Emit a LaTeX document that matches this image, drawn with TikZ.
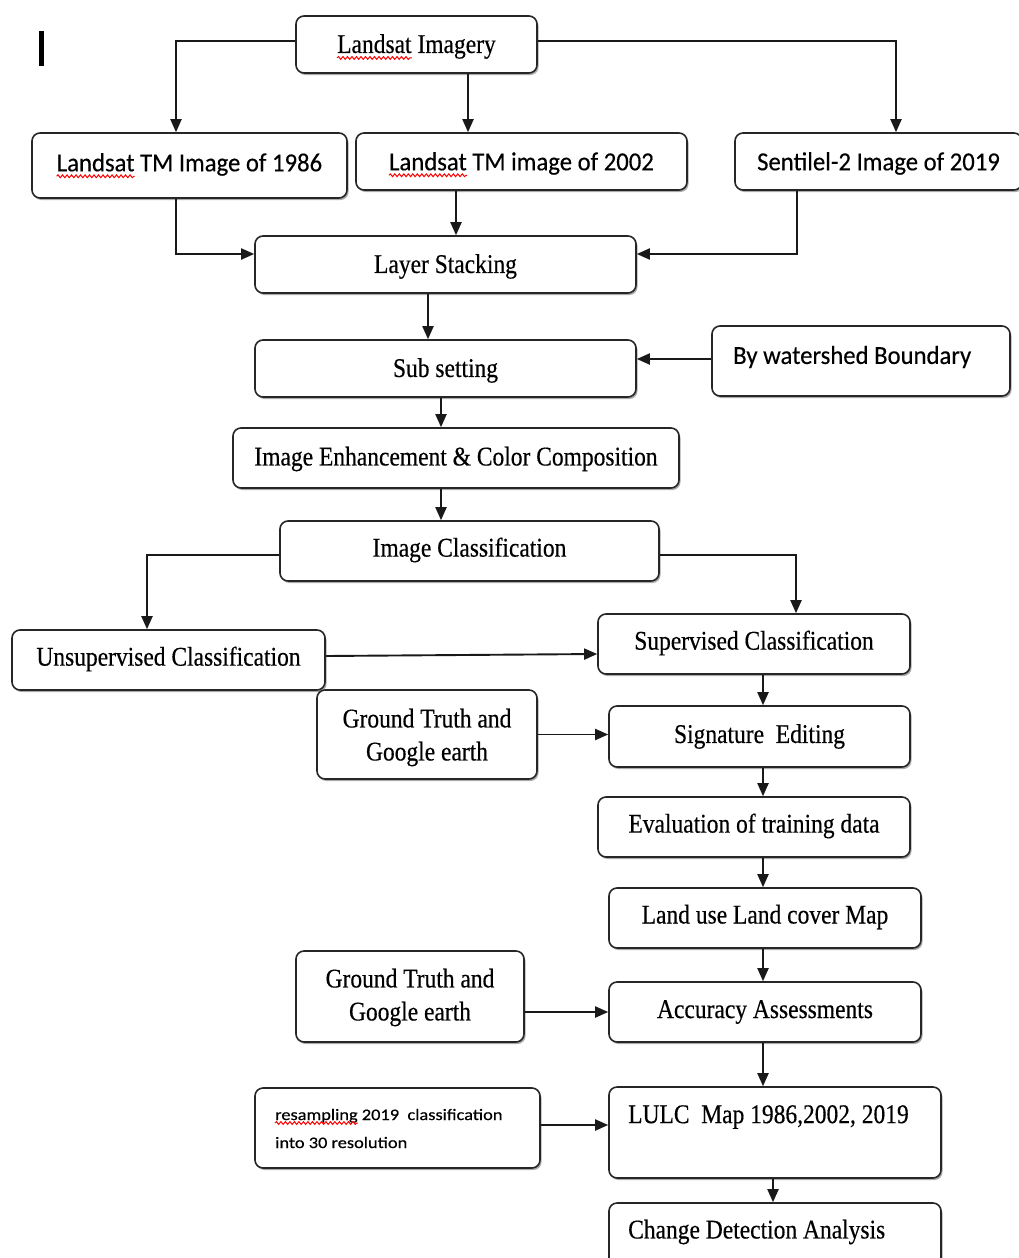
\documentclass[tikz,border=0pt]{standalone}
\usepackage{fontspec}
\newfontfamily\srf[FakeStretch=0.87,FakeBold=0.4]{Liberation Serif}
\newfontfamily\snf[FakeStretch=0.95,FakeBold=0.3]{Carlito}
\newfontfamily\snw[FakeStretch=1.15,FakeBold=0.5]{Carlito}
\usetikzlibrary{arrows.meta,shadows,decorations.pathmorphing}
\tikzset{
  box/.style={draw=black!85, line width=1.6pt, rounded corners=8pt, fill=white,
    drop shadow={shadow xshift=1.5pt, shadow yshift=-2pt, fill=black!55, opacity=0.6},
    inner sep=0pt},
  srft/.style={font=\srf\fontsize{27}{33}\selectfont, align=center},
  snft/.style={font=\snf\fontsize{26}{30}\selectfont},
  smallt/.style={font=\snw\fontsize{16}{28}\selectfont, inner sep=0pt},
  txt/.style={inner sep=0pt},
  squig/.style={draw=red, line width=1pt, decorate,
    decoration={snake, amplitude=1.4pt, segment length=4.5pt}},
  arr/.style={line width=1.9pt, draw=black!90, -{Triangle[length=13pt,width=11pt]}},
}
\begin{document}
\begin{tikzpicture}[x=1pt,y=-1pt]
\useasboundingbox (0,0) rectangle (1018,1258);
\fill[white] (0,0) rectangle (1018,1258);
\draw[line width=5pt] (41,31) -- (41,66);

\node[box,minimum width=241pt,minimum height=57pt] (img) at (416.5,44.5) {};
\node[srft,txt] (imgt) at ([yshift=-2pt]img.center) {Landsat Imagery};
\node[srft,txt,anchor=base west] (imgw) at (imgt.base west) {\phantom{Landsat}};
\draw[squig] ([yshift=-5pt]imgw.base west) -- ([yshift=-5pt]imgw.base east);

\node[box,minimum width=315pt,minimum height=65pt] (b86) at (189.5,165.5) {};
\node[snft,txt] (b86t) at ([yshift=1pt]b86.center) {Landsat TM Image of 1986};
\node[snft,txt,anchor=base west] (b86w) at (b86t.base west) {\phantom{Landsat}};
\draw[squig] ([yshift=-5pt]b86w.base west) -- ([yshift=-5pt]b86w.base east);

\node[box,minimum width=331pt,minimum height=57pt] (b02) at (521.5,161.5) {};
\node[snft,txt] (b02t) at ([yshift=-2pt]b02.center) {Landsat TM image of 2002};
\node[snft,txt,anchor=base west] (b02w) at (b02t.base west) {\phantom{Landsat}};
\draw[squig] ([yshift=-5pt]b02w.base west) -- ([yshift=-5pt]b02w.base east);

\node[box,minimum width=287pt,minimum height=57pt] (b19) at (878.5,161.5) {};
\node[snft,txt] (b19t) at ([yshift=-2pt]b19.center) {Sentilel-2 Image of 2019};
\node[box,minimum width=381pt,minimum height=57pt] (lst) at (445.5,264.5) {};
\node[srft,txt] (lstt) at ([yshift=-2pt]lst.center) {Layer Stacking};
\node[box,minimum width=381pt,minimum height=57pt] (sub) at (445.5,368.5) {};
\node[srft,txt] (subt) at ([yshift=-2pt]sub.center) {Sub setting};
\node[box,minimum width=298pt,minimum height=70pt] (ws) at (861,361) {};
\node[snft,anchor=west,txt] (wst) at (733,357) {By watershed Boundary};
\node[box,minimum width=446pt,minimum height=60pt] (enh) at (456,458) {};
\node[srft,txt] (enht) at ([yshift=-1pt]enh.center) {Image Enhancement \& Color Composition};
\node[box,minimum width=379pt,minimum height=60pt] (icl) at (469.5,551) {};
\node[srft,txt] (iclt) at ([yshift=1pt]icl.center) {Image Classification};
\node[box,minimum width=313pt,minimum height=60pt] (uns) at (168.5,660) {};
\node[srft,txt] (unst) at ([yshift=1pt]uns.center) {Unsupervised Classification};
\node[box,minimum width=312pt,minimum height=60pt] (sup) at (754,644) {};
\node[srft,txt] (supt) at ([yshift=1pt]sup.center) {Supervised Classification};
\node[box,minimum width=220pt,minimum height=89pt] (gt1) at (427,734.5) {};
\node[srft,txt] (gt1t) at ([yshift=-3pt]gt1.center) {Ground Truth and\\Google earth};
\node[box,minimum width=301pt,minimum height=61pt] (sig) at (759.5,736.5) {};
\node[srft,txt] (sigt) at (sig.center) {Signature\ \ Editing};
\node[box,minimum width=312pt,minimum height=60pt] (eva) at (754,827) {};
\node[srft,txt] (evat) at ([yshift=1pt]eva.center) {Evaluation of training data};
\node[box,minimum width=312pt,minimum height=60pt] (luc) at (765,918) {};
\node[srft,txt] (luct) at ([yshift=1pt]luc.center) {Land use Land cover Map};
\node[box,minimum width=228pt,minimum height=91pt] (gt2) at (410,996.5) {};
\node[srft,txt] (gt2t) at ([yshift=-1pt]gt2.center) {Ground Truth and\\Google earth};
\node[box,minimum width=312pt,minimum height=60pt] (acc) at (765,1012) {};
\node[srft,txt] (acct) at (acc.center) {Accuracy Assessments};

\node[box,minimum width=285pt,minimum height=80pt] (res) at (397.5,1128) {};
\node[smallt,anchor=base west] (rest1) at (275,1120) {resampling 2019\ \ classification};
\node[smallt,anchor=base west] (resw) at (rest1.base west) {\phantom{resampling}};
\draw[squig] ([yshift=-3pt]resw.base west) -- ([yshift=-3pt]resw.base east);
\node[smallt,anchor=base west] (rest2) at (275,1148) {into 30 resolution};

\node[box,minimum width=332pt,minimum height=91pt] (lul) at (775,1132.5) {};
\node[srft,anchor=west,txt] (lult) at (628,1117) {LULC\ \ Map 1986,2002, 2019};
\node[box,minimum width=332pt,minimum height=74pt] (chg) at (775,1240) {};
\node[srft,anchor=west,txt] (chgt) at (628,1232) {Change Detection Analysis};

\draw[arr] ([yshift=3.5pt]img.west) -| ([xshift=-13.5pt]b86.north);
\draw[arr] ([xshift=51.5pt]img.south) -- ([xshift=-53.5pt]b02.north);
\draw[arr] ([yshift=3.5pt]img.east) -| ([xshift=17.5pt]b19.north);
\draw[arr] ([xshift=-13.5pt]b86.south) |- ([yshift=10.5pt]lst.west);
\draw[arr] ([xshift=-65.5pt]b02.south) -- ([xshift=10.5pt]lst.north);
\draw[arr] ([xshift=-81.5pt]b19.south) |- ([yshift=10.5pt]lst.east);
\draw[arr] ([xshift=-17.5pt]lst.south) -- ([xshift=-17.5pt]sub.north);
\draw[arr] ([yshift=2pt]ws.west) -- ([yshift=9.5pt]sub.east);
\draw[arr] ([xshift=-4.5pt]sub.south) -- ([xshift=-15pt]enh.north);
\draw[arr] ([xshift=-15pt]enh.south) -- ([xshift=-28.5pt]icl.north);
\draw[arr] ([yshift=-4pt]icl.west) -| ([xshift=-21.5pt]uns.north);
\draw[arr] ([yshift=-4pt]icl.east) -| ([xshift=42pt]sup.north);
\draw[arr] ([yshift=4pt]uns.east) -- ([yshift=-10pt]sup.west);
\draw[arr] ([xshift=9pt]sup.south) -- ([xshift=3.5pt]sig.north);
\draw[arr] (gt1.east) -- (gt1.east -| sig.west);
\draw[arr] ([xshift=3.5pt]sig.south) -- ([xshift=9pt]eva.north);
\draw[arr] ([xshift=9pt]eva.south) -- ([xshift=-2pt]luc.north);
\draw[arr] ([xshift=-2pt]luc.south) -- ([xshift=-2pt]acc.north);
\draw[arr] (acc.west -| gt2.east) -- (acc.west);
\draw[arr] ([xshift=-2pt]acc.south) -- ([xshift=-12pt]lul.north);
\draw[arr] ([yshift=3pt]res.east) -- ([yshift=7.5pt]lul.west);
\draw[arr] ([xshift=-2pt]lul.south) -- ([xshift=-2pt]chg.north);
\end{tikzpicture}
\end{document}
